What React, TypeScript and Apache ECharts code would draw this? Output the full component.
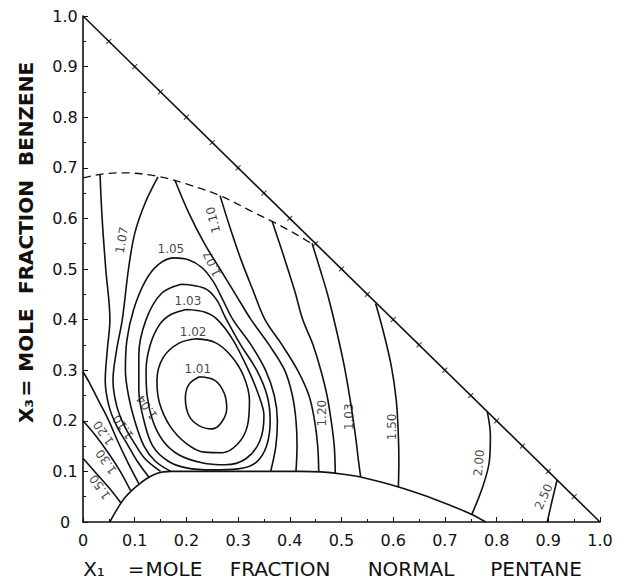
import React, { useEffect, useRef } from "react";
import * as echarts from "echarts";

// ---- data ----
const axisTicks = [0, 0.1, 0.2, 0.3, 0.4, 0.5, 0.6, 0.7, 0.8, 0.9, 1.0];

const hypotenuse = [[0, 1], [1, 0]];
const hypotenuseMarks = [
  [0.05, 0.95], [0.1, 0.9], [0.15, 0.85], [0.2, 0.8], [0.25, 0.75], [0.3, 0.7], [0.35, 0.65],
  [0.4, 0.6], [0.45, 0.55], [0.5, 0.5], [0.55, 0.45], [0.6, 0.4], [0.65, 0.35], [0.7, 0.3],
  [0.75, 0.25], [0.8, 0.2], [0.85, 0.15], [0.9, 0.1], [0.95, 0.05],
];

const dashedBoundary = [
  [0, 0.68], [0.04, 0.688], [0.08, 0.69], [0.145, 0.683], [0.2, 0.668], [0.265, 0.645],
  [0.33, 0.612], [0.37, 0.592], [0.41, 0.57], [0.445, 0.548],
];

const lowerBoundary = [
  [0.052, 0], [0.06, 0.015], [0.07, 0.032], [0.08, 0.047], [0.095, 0.063], [0.11, 0.076],
  [0.125, 0.087], [0.14, 0.095], [0.155, 0.099], [0.17, 0.1], [0.42, 0.1], [0.46, 0.099],
  [0.5, 0.095], [0.537, 0.089], [0.58, 0.078], [0.62, 0.066], [0.68, 0.045], [0.75, 0.016], [0.779, 0],
];

const c101 = [
  [0.225, 0.287], [0.255, 0.28], [0.273, 0.255], [0.278, 0.225], [0.268, 0.197], [0.25, 0.184],
  [0.225, 0.19], [0.205, 0.21], [0.198, 0.245], [0.205, 0.272], [0.225, 0.287],
];
const c102 = [
  [0.22, 0.362], [0.255, 0.355], [0.285, 0.33], [0.31, 0.29], [0.322, 0.24], [0.318, 0.19],
  [0.3, 0.155], [0.27, 0.137], [0.235, 0.138], [0.2, 0.155], [0.168, 0.19], [0.148, 0.235],
  [0.143, 0.28], [0.155, 0.325], [0.185, 0.353], [0.22, 0.362],
];
const c103 = [
  [0.2, 0.42], [0.235, 0.415], [0.26, 0.4], [0.29, 0.36], [0.32, 0.3], [0.34, 0.25], [0.35, 0.21],
  [0.342, 0.16], [0.315, 0.125], [0.275, 0.113], [0.23, 0.117], [0.185, 0.133], [0.155, 0.16],
  [0.135, 0.2], [0.124, 0.25], [0.122, 0.3], [0.13, 0.35], [0.148, 0.39], [0.17, 0.41], [0.2, 0.42],
];
const c104 = [
  [0.19, 0.47], [0.235, 0.462], [0.258, 0.44], [0.275, 0.405], [0.305, 0.35], [0.336, 0.3],
  [0.356, 0.25], [0.362, 0.2], [0.355, 0.15], [0.335, 0.118], [0.3, 0.105], [0.25, 0.103],
  [0.2, 0.107], [0.165, 0.12], [0.135, 0.15], [0.118, 0.2], [0.108, 0.26], [0.108, 0.33],
  [0.122, 0.4], [0.152, 0.452], [0.19, 0.47],
];
const c105 = [
  [0.17, 0.1], [0.14, 0.12], [0.118, 0.15], [0.1, 0.2], [0.088, 0.25], [0.082, 0.3], [0.085, 0.36],
  [0.098, 0.42], [0.12, 0.475], [0.145, 0.508], [0.175, 0.522], [0.205, 0.518], [0.23, 0.503],
  [0.252, 0.475], [0.27, 0.44], [0.29, 0.4], [0.325, 0.35], [0.353, 0.3], [0.37, 0.25],
  [0.376, 0.2], [0.373, 0.15], [0.363, 0.1],
];
const c107Left = [
  [0.145, 0.682], [0.12, 0.63], [0.1, 0.57], [0.088, 0.5], [0.076, 0.4], [0.065, 0.34],
  [0.058, 0.28], [0.065, 0.23], [0.08, 0.19], [0.1, 0.155], [0.12, 0.125], [0.15, 0.1],
];
const c107Right = [
  [0.178, 0.675], [0.205, 0.61], [0.235, 0.55], [0.265, 0.5], [0.295, 0.45], [0.325, 0.4],
  [0.36, 0.35], [0.39, 0.3], [0.405, 0.25], [0.412, 0.2], [0.414, 0.15], [0.412, 0.1],
];
const c110Left = [
  [0.033, 0.686], [0.037, 0.6], [0.044, 0.5], [0.052, 0.4], [0.047, 0.34], [0.043, 0.28],
  [0.05, 0.23], [0.065, 0.19], [0.085, 0.155], [0.105, 0.12], [0.128, 0.088],
];
const c110Right = [
  [0.265, 0.645], [0.285, 0.58], [0.305, 0.52], [0.328, 0.46], [0.352, 0.4], [0.385, 0.35],
  [0.415, 0.3], [0.437, 0.25], [0.448, 0.2], [0.454, 0.15], [0.456, 0.099],
];
const c120Left = [
  [0, 0.297], [0.012, 0.276], [0.03, 0.24], [0.05, 0.2], [0.067, 0.16], [0.088, 0.115], [0.108, 0.076],
];
const c130Left = [[0, 0.2], [0.025, 0.17], [0.05, 0.135], [0.072, 0.1], [0.092, 0.062]];
const c150Left = [[0, 0.126], [0.025, 0.097], [0.05, 0.068], [0.073, 0.038]];
const c120Right = [
  [0.366, 0.594], [0.39, 0.52], [0.41, 0.455], [0.425, 0.4], [0.445, 0.35], [0.46, 0.3],
  [0.472, 0.25], [0.48, 0.2], [0.486, 0.15], [0.488, 0.096],
];
const c103Right = [
  [0.443, 0.551], [0.459, 0.498], [0.473, 0.45], [0.49, 0.38], [0.505, 0.31], [0.517, 0.24],
  [0.527, 0.17], [0.533, 0.12], [0.537, 0.089],
];
const c150Right = [
  [0.566, 0.432], [0.58, 0.38], [0.596, 0.31], [0.606, 0.24], [0.61, 0.17], [0.611, 0.12], [0.61, 0.069],
];
const c200 = [[0.782, 0.218], [0.788, 0.17], [0.786, 0.12], [0.773, 0.069], [0.752, 0.015]];
const c250 = [[0.917, 0.083], [0.908, 0.045], [0.898, 0]];

const contourLines = [
  c101, c102, c103, c104, c105, c107Left, c107Right, c110Left, c110Right,
  c120Left, c130Left, c150Left, c120Right, c103Right, c150Right, c200, c250,
];

const contourLabelText = [
  "1.01", "1.02", "1.03", "1.05", "1.07", "1.07", "1.10", "1.10", "1.04",
  "1.20", "1.30", "1.50", "1.20", "1.03", "1.50", "2.00", "2.50",
];
const contourLabelX = [
  0.222, 0.213, 0.203, 0.17, 0.075, 0.25, 0.252, 0.078, 0.124,
  0.04, 0.045, 0.033, 0.462, 0.515, 0.597, 0.766, 0.891,
];
const contourLabelY = [
  0.303, 0.376, 0.437, 0.54, 0.557, 0.51, 0.597, 0.188, 0.227,
  0.176, 0.119, 0.069, 0.215, 0.208, 0.188, 0.117, 0.05,
];

const xTitleWords = ["X\u2081", "=", "MOLE", "FRACTION", "NORMAL", "PENTANE"];
const yTitleWords = ["BENZENE", "FRACTION", "MOLE", "=", "X\u2083"];

// ---- layout / style ----
const FONT = "'DejaVu Sans', 'Liberation Sans', sans-serif";
const INK = "#111";
const labelRotation = [0, 0, 0, 0, 80, 115, 105, 125, 125, 125, 125, 125, 90, 90, 90, 85, 65];
const xTitleCenters = [94, 136, 174, 280, 411, 536];
const yTitleCenters = [114, 237, 340, 388, 411];

const fmt = (v: number) => (v === 0 ? "0" : v.toFixed(1));

export default function App() {
  const ref = useRef<HTMLDivElement>(null);

  useEffect(() => {
    if (!ref.current) return;
    const chart = echarts.init(ref.current, null, { renderer: "svg" });

    const axisCommon = {
      type: "value" as const,
      min: axisTicks[0],
      max: axisTicks[axisTicks.length - 1],
      interval: 0.1,
      axisLine: { show: true, onZero: false, lineStyle: { color: INK, width: 1.6 } },
      axisTick: { show: true, inside: true, length: 5, lineStyle: { color: INK, width: 1 } },
      minorTick: { show: true, splitNumber: 2, length: 3, lineStyle: { color: INK, width: 1 } },
      splitLine: { show: false },
      minorSplitLine: { show: false },
    };

    const lineSeries = (data: number[][]) => ({
      type: "line",
      data,
      showSymbol: false,
      symbol: "none",
      smooth: 0.35,
      silent: true,
      lineStyle: { color: INK, width: 1.6 },
      z: 3,
    });

    const labelData = contourLabelText.map((t, i) => ({
      name: t,
      value: [contourLabelX[i], contourLabelY[i]],
      label: { rotate: labelRotation[i] },
    }));

    const graphic: any[] = [];
    xTitleWords.forEach((w, i) => {
      graphic.push({
        type: "text",
        x: xTitleCenters[i],
        y: 569,
        style: {
          text: w,
          font: `20px ${FONT}`,
          fill: INK,
          align: "center",
          verticalAlign: "middle",
          textAlign: "center",
          textVerticalAlign: "middle",
        },
      });
    });
    yTitleWords.forEach((w, i) => {
      graphic.push({
        type: "text",
        x: 26,
        y: yTitleCenters[i],
        rotation: Math.PI / 2,
        style: {
          text: w,
          font: `bold 20px ${FONT}`,
          fill: INK,
          align: "center",
          verticalAlign: "middle",
          textAlign: "center",
          textVerticalAlign: "middle",
        },
      });
    });

    chart.setOption({
      animation: false,
      backgroundColor: "#fff",
      grid: { left: 83, right: 25, top: 16, bottom: 59 },
      xAxis: {
        ...axisCommon,
        axisLabel: { formatter: fmt, color: INK, fontSize: 16, fontFamily: FONT, margin: 10 },
      },
      yAxis: {
        ...axisCommon,
        axisLabel: { formatter: fmt, color: INK, fontSize: 16, fontFamily: FONT, margin: 18, align: "center" },
      },
      series: [
        { ...lineSeries(hypotenuse), smooth: false },
        {
          type: "scatter",
          data: hypotenuseMarks,
          symbol: "path://M5,0L5,10M0,5L10,5",
          symbolSize: 7,
          symbolRotate: 45,
          silent: true,
          itemStyle: { color: "transparent", borderColor: INK, borderWidth: 1.1 },
          z: 4,
        },
        {
          ...lineSeries(dashedBoundary),
          lineStyle: { color: INK, width: 1.3, type: [8, 5] },
        },
        { ...lineSeries(lowerBoundary), smooth: 0.3 },
        ...contourLines.map((d) => lineSeries(d)),
        {
          type: "scatter",
          data: labelData,
          symbolSize: 0,
          silent: true,
          z: 6,
          label: {
            show: true,
            position: "inside",
            formatter: (p: any) => p.name,
            color: INK,
            fontSize: 12,
            fontFamily: FONT,
          },
        },
      ],
      graphic,
    });

    return () => chart.dispose();
  }, []);

  return (
    <div
      ref={ref}
      style={{ position: "absolute", left: 0, top: 0, width: 625, height: 581, background: "#fff" }}
    />
  );
}
